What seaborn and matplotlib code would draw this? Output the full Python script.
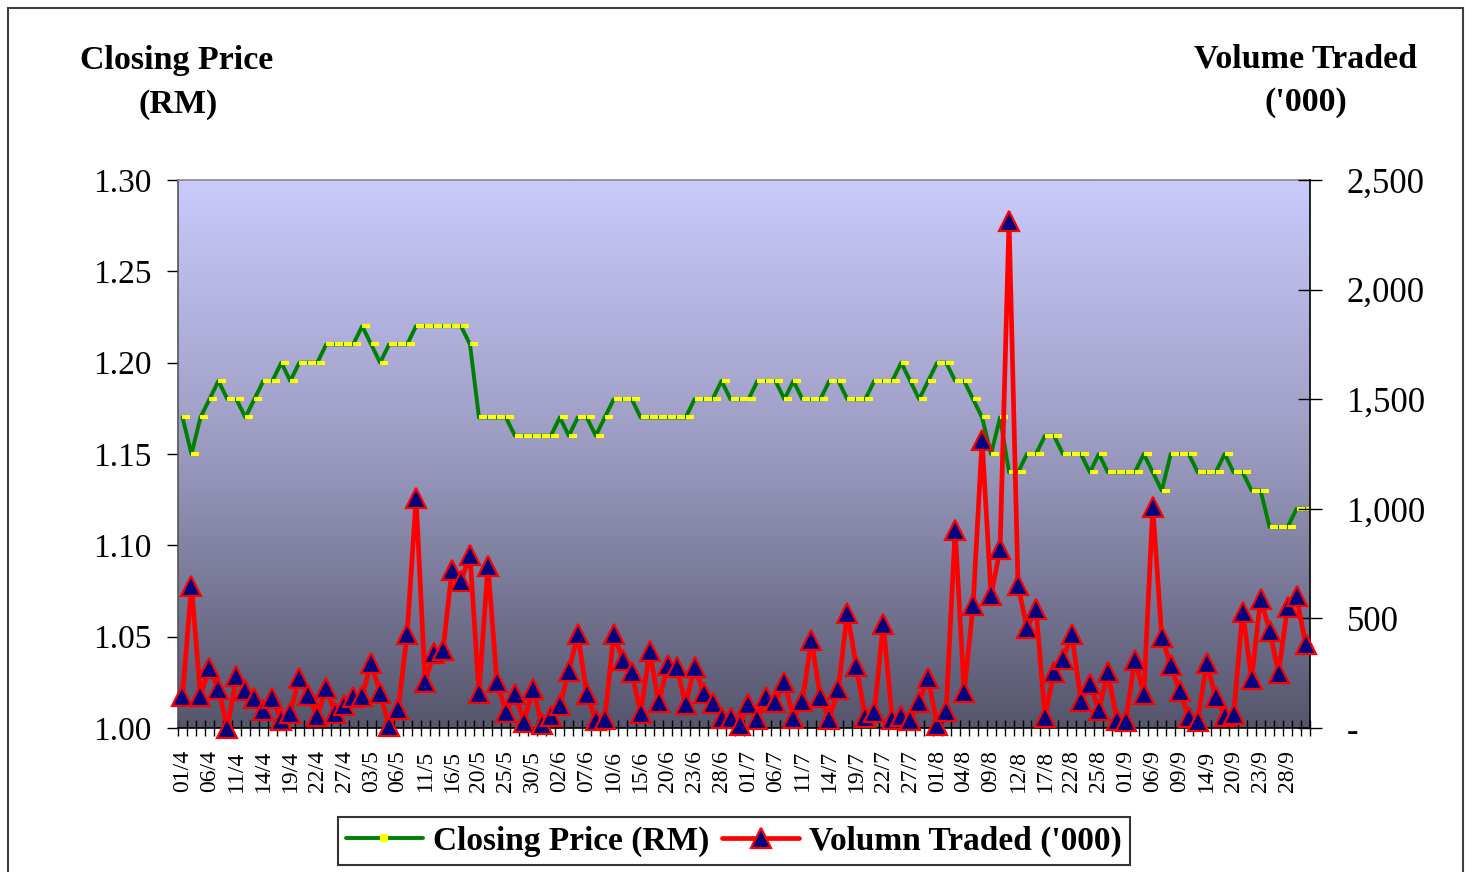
import numpy as np
import matplotlib
matplotlib.use('Agg')
import matplotlib.pyplot as plt
from matplotlib.path import Path
from matplotlib.lines import Line2D
from matplotlib.patches import Rectangle
from matplotlib.colors import LinearSegmentedColormap
import seaborn as sns

# daily closing price (RM), 01/4 .. 30/9
closing_price = [1.17, 1.15, 1.17, 1.18, 1.19, 1.18, 1.18, 1.17, 1.18, 1.19,
                 1.19, 1.20, 1.19, 1.20, 1.20, 1.20, 1.21, 1.21, 1.21, 1.21,
                 1.22, 1.21, 1.20, 1.21, 1.21, 1.21, 1.22, 1.22, 1.22, 1.22,
                 1.22, 1.22, 1.21, 1.17, 1.17, 1.17, 1.17, 1.16, 1.16, 1.16,
                 1.16, 1.16, 1.17, 1.16, 1.17, 1.17, 1.16, 1.17, 1.18, 1.18,
                 1.18, 1.17, 1.17, 1.17, 1.17, 1.17, 1.17, 1.18, 1.18, 1.18,
                 1.19, 1.18, 1.18, 1.18, 1.19, 1.19, 1.19, 1.18, 1.19, 1.18,
                 1.18, 1.18, 1.19, 1.19, 1.18, 1.18, 1.18, 1.19, 1.19, 1.19,
                 1.20, 1.19, 1.18, 1.19, 1.20, 1.20, 1.19, 1.19, 1.18, 1.17,
                 1.15, 1.17, 1.14, 1.14, 1.15, 1.15, 1.16, 1.16, 1.15, 1.15,
                 1.15, 1.14, 1.15, 1.14, 1.14, 1.14, 1.14, 1.15, 1.14, 1.13,
                 1.15, 1.15, 1.15, 1.14, 1.14, 1.14, 1.15, 1.14, 1.14, 1.13,
                 1.13, 1.11, 1.11, 1.11, 1.12, 1.12]

# daily volume traded ('000)
volume_traded = [145, 648, 146, 275, 178, 0, 237, 172, 135, 84,
                 135, 36, 70, 227, 150, 53, 181, 68, 105, 143,
                 146, 295, 161, 9, 85, 427, 1048, 211, 344, 356,
                 722, 671, 788, 161, 739, 211, 73, 154, 29, 178,
                 18, 53, 103, 261, 427, 155, 36, 41, 427, 312,
                 254, 70, 350, 117, 286, 278, 109, 278, 161, 114,
                 46, 46, 14, 109, 41, 140, 117, 211, 44, 123,
                 401, 140, 42, 178, 525, 281, 49, 72, 474, 41,
                 53, 35, 119, 227, 14, 79, 905, 164, 560, 1314,
                 605, 815, 2313, 652, 455, 544, 52, 254, 315, 427,
                 123, 199, 81, 255, 35, 33, 312, 157, 1008, 414,
                 286, 167, 49, 33, 295, 143, 56, 62, 531, 224,
                 590, 444, 252, 552, 602, 383]

# every third trading day is labelled
date_labels = ['01/4', '06/4', '11/4', '14/4', '19/4', '22/4', '27/4',
               '03/5', '06/5', '11/5', '16/5', '20/5', '25/5', '30/5',
               '02/6', '07/6', '10/6', '15/6', '20/6', '23/6', '28/6',
               '01/7', '06/7', '11/7', '14/7', '19/7', '22/7', '27/7',
               '01/8', '04/8', '09/8', '12/8', '17/8', '22/8', '25/8',
               '01/9', '06/9', '09/9', '14/9', '20/9', '23/9', '28/9']

price_ticks = [1.00, 1.05, 1.10, 1.15, 1.20, 1.25, 1.30]
price_tick_labels = ['1.00', '1.05', '1.10', '1.15', '1.20', '1.25', '1.30']
volume_ticks = [0, 500, 1000, 1500, 2000, 2500]
volume_tick_labels = ['-', '500', '1,000', '1,500', '2,000', '2,500']

sns.set_style('ticks', {'text.color': 'black', 'xtick.color': 'black',
                        'ytick.color': 'black', 'axes.edgecolor': 'black'})
plt.rcParams['font.family'] = ['Liberation Serif', 'DejaVu Serif']

W, H = 1465, 872
fig = plt.figure(figsize=(W / 100, H / 100), dpi=100)
ax = fig.add_axes([178 / W, 1 - 728 / H, (1310 - 178) / W, (728 - 180) / H])
ax2 = ax.twinx()

n = len(closing_price)
days = np.arange(n)

# lavender -> slate gradient behind the plot
grad = np.linspace(0, 1, 256)[:, None]
bg = LinearSegmentedColormap.from_list('bg', ['#cacafc', '#9a9ac0', '#55556c'])
ax.imshow(grad, extent=[-0.5, n - 0.5, 1.0, 1.3], aspect='auto', cmap=bg,
          origin='upper', zorder=0)

# yellow dash marker sitting just right of each point (Excel style)
dash = Path([(0, -0.3), (1, -0.3), (1, 0.3), (0, 0.3), (0, -0.3)], closed=True)

sns.lineplot(x=days, y=closing_price, ax=ax, color='#008000', linewidth=2.8,
             marker=dash, markersize=11.5, markerfacecolor='#ffff00',
             markeredgecolor='#ffff00', markeredgewidth=0, zorder=3)

sns.lineplot(x=days, y=volume_traded, ax=ax2, color='#ff0000', linewidth=3.4,
             marker='^', markersize=14, markerfacecolor='#000080',
             markeredgecolor='#ff0000', markeredgewidth=1.6, clip_on=False,
             zorder=4)

ax.set_xlim(-0.5, n - 0.5)
ax.set_ylim(1.0, 1.3)
ax2.set_ylim(0, 2500)
ax.set_xlabel('')
ax.set_ylabel('')
ax2.set_ylabel('')

# x axis: labels every 3rd day, small ticks between every day
ax.set_xticks(days[::3])
ax.set_xticklabels(date_labels, rotation=90, fontsize=17)
ax.set_xticks(np.arange(-0.5, n), minor=True)
ax.tick_params(axis='x', which='major', length=0, pad=16)
ax.tick_params(axis='x', which='minor', direction='inout', length=12, width=1)

ax.set_yticks(price_ticks)
ax.set_yticklabels(price_tick_labels)
ax.tick_params(axis='y', direction='out', length=8, width=1, labelsize=24, pad=11)

ax2.set_yticks(volume_ticks)
ax2.set_yticklabels(volume_tick_labels)
ax2.tick_params(axis='y', direction='inout', length=17, width=1, labelsize=25,
                pad=18, right=True)

for s in ['left', 'top', 'bottom']:
    ax2.spines[s].set_visible(False)
ax.spines['right'].set_visible(False)
ax.spines['top'].set_color('#888888')
ax.spines['left'].set_color('#555555')
for sp in [ax.spines['left'], ax.spines['top'], ax.spines['bottom'], ax2.spines['right']]:
    sp.set_linewidth(1.2)

# axis headings
title_kw = dict(ha='center', va='center', fontsize=24.5, fontweight='bold')
fig.text(177 / W, 1 - 61 / H, 'Closing Price', **title_kw)
fig.text(178 / W, 1 - 104 / H, '(RM)', **title_kw)
fig.text(1305 / W, 1 - 59 / H, 'Volume Traded', **title_kw)
fig.text(1306 / W, 1 - 103 / H, "('000)", **title_kw)

# legend
h1 = Line2D([], [], color='#008000', lw=2.8, marker='s', markersize=6,
            markerfacecolor='#ffff00', markeredgewidth=0)
h2 = Line2D([], [], color='#ff0000', lw=3.4, marker='^', markersize=15,
            markerfacecolor='#000080', markeredgecolor='#ff0000', markeredgewidth=1.6)
leg = fig.legend([h1, h2], ['Closing Price (RM)', "Volumn Traded ('000)"],
                 loc='center', bbox_to_anchor=(734 / W, 1 - 841 / H), ncol=2,
                 frameon=True, fancybox=False, edgecolor='black',
                 prop={'weight': 'bold', 'size': 24}, handlelength=2.3,
                 columnspacing=0.4, handletextpad=0.3, borderpad=0.25)
leg.get_frame().set_linewidth(1.5)

# outer chart border
fig.patches.append(Rectangle((8 / W, -0.05), (1463 - 8) / W, 1 - 8 / H + 0.05,
                             transform=fig.transFigure, fill=False,
                             edgecolor='#404040', linewidth=1.5))

fig.savefig('out.png', dpi=100)
